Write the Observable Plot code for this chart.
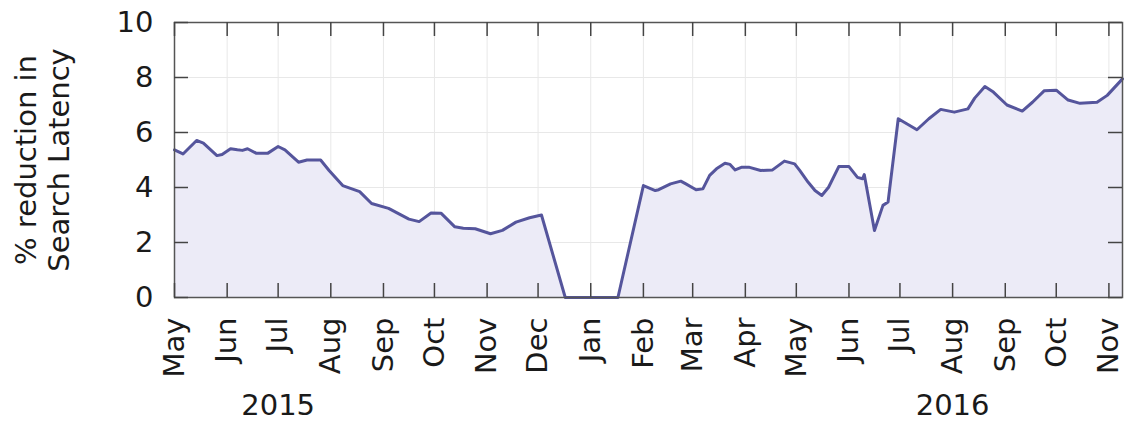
<!DOCTYPE html>
<html><head><meta charset="utf-8">
<script src="https://cdn.jsdelivr.net/npm/d3@7"></script>
<script src="https://cdn.jsdelivr.net/npm/@observablehq/plot@0.6"></script>
<style>body{margin:0;background:#fff}</style>
</head><body><div id="chart"></div>
<script>
// Data
const dates = [
  "2015-05-01","2015-05-06","2015-05-14","2015-05-18","2015-05-26","2015-05-29",
  "2015-06-03","2015-06-07","2015-06-10","2015-06-13","2015-06-18","2015-06-25",
  "2015-07-01","2015-07-05","2015-07-13","2015-07-18","2015-07-26","2015-07-31",
  "2015-08-08","2015-08-18","2015-08-25","2015-09-04","2015-09-16","2015-09-22",
  "2015-09-29","2015-10-05","2015-10-13","2015-10-18","2015-10-25","2015-11-03",
  "2015-11-10","2015-11-18","2015-11-26","2015-12-03","2015-12-17","2016-01-17",
  "2016-02-01","2016-02-08","2016-02-10","2016-02-17","2016-02-23","2016-02-26",
  "2016-03-03","2016-03-07","2016-03-11","2016-03-15","2016-03-20","2016-03-23",
  "2016-03-26","2016-03-30","2016-04-03","2016-04-10","2016-04-17","2016-04-24",
  "2016-04-30","2016-05-03","2016-05-08","2016-05-12","2016-05-16","2016-05-20",
  "2016-05-26","2016-06-01","2016-06-06","2016-06-09","2016-06-10","2016-06-16",
  "2016-06-21","2016-06-24","2016-06-30","2016-07-05","2016-07-11","2016-07-18",
  "2016-07-25","2016-08-02","2016-08-10","2016-08-14","2016-08-20","2016-08-25",
  "2016-09-02","2016-09-11","2016-09-17","2016-09-24","2016-10-01","2016-10-08",
  "2016-10-15","2016-10-25","2016-10-31","2016-11-09"
];
const values = [
  5.37,5.22,5.71,5.61,5.16,5.20,
  5.41,5.37,5.35,5.41,5.25,5.25,
  5.49,5.37,4.92,5.00,5.00,4.62,
  4.07,3.85,3.42,3.24,2.85,2.76,
  3.07,3.06,2.57,2.52,2.50,2.32,
  2.44,2.74,2.90,3.00,0.00,0.00,
  4.07,3.89,3.92,4.13,4.23,4.13,
  3.92,3.95,4.44,4.68,4.88,4.84,
  4.64,4.74,4.74,4.62,4.64,4.96,
  4.86,4.62,4.19,3.89,3.71,4.01,
  4.76,4.76,4.37,4.32,4.47,2.44,
  3.35,3.47,6.50,6.32,6.10,6.50,
  6.84,6.74,6.86,7.25,7.67,7.47,
  7.00,6.78,7.10,7.52,7.54,7.18,
  7.06,7.10,7.35,7.95
];
const monthTicks = [
  "2015-05-01","2015-06-01","2015-07-01","2015-08-01","2015-09-01","2015-10-01",
  "2015-11-01","2015-12-01","2016-01-01","2016-02-01","2016-03-01","2016-04-01",
  "2016-05-01","2016-06-01","2016-07-01","2016-08-01","2016-09-01","2016-10-01","2016-11-01"
];
const yTicks = [0, 2, 4, 6, 8, 10];
const yearLabels = ["2015", "2016"];
const yearLabelDates = ["2015-07-01", "2016-08-01"];
const yLabel = "% reduction in\nSearch Latency";
const xDomain = ["2015-05-01", "2016-11-09"];

const data = dates.map((d, i) => ({date: new Date(d), value: values[i]}));
const ticks = monthTicks.map(d => new Date(d));

const tickStyle = {stroke: "#444", strokeWidth: 1.5};
const plot = Plot.plot({
  width: 1124,
  height: 423,
  marginLeft: 174,
  marginRight: 2,
  marginTop: 22,
  marginBottom: 126,
  style: {fontFamily: "'DejaVu Sans', sans-serif", fontSize: "29px", color: "#1a1a1a", background: "#fff"},
  x: {type: "utc", domain: xDomain.map(d => new Date(d))},
  y: {domain: [0, 10]},
  marks: [
    Plot.ruleX(ticks, {stroke: "#e8e8e8", strokeWidth: 1}),
    Plot.ruleY(yTicks, {stroke: "#e8e8e8", strokeWidth: 1}),
    Plot.areaY(data, {x: "date", y: "value", fill: "#ecebf7"}),
    Plot.lineY(data, {x: "date", y: "value", stroke: "#55559c", strokeWidth: 3}),
    Plot.frame({stroke: "#555", strokeWidth: 1.5}),
    Plot.ruleX(ticks, {insetTop: 261, ...tickStyle}),
    Plot.ruleX(ticks, {insetBottom: 261, ...tickStyle}),
    Plot.ruleY(yTicks, {insetRight: 934, ...tickStyle}),
    Plot.ruleY(yTicks, {insetLeft: 934, ...tickStyle}),
    Plot.axisX({ticks, tickFormat: d3.utcFormat("%b"), tickRotate: -90, tickSize: 0, tickPadding: 20, label: null}),
    Plot.axisY({ticks: yTicks, tickSize: 0, tickPadding: 21, label: null}),
    Plot.text(yearLabels, {x: (d, i) => new Date(yearLabelDates[i]), text: d => d, frameAnchor: "bottom", dy: 117}),
    Plot.text([yLabel], {text: d => d, frameAnchor: "left", textAnchor: "middle", dx: -133, rotate: -90, lineHeight: 1.15})
  ]
});
document.getElementById("chart").append(plot);
</script>
</body></html>
